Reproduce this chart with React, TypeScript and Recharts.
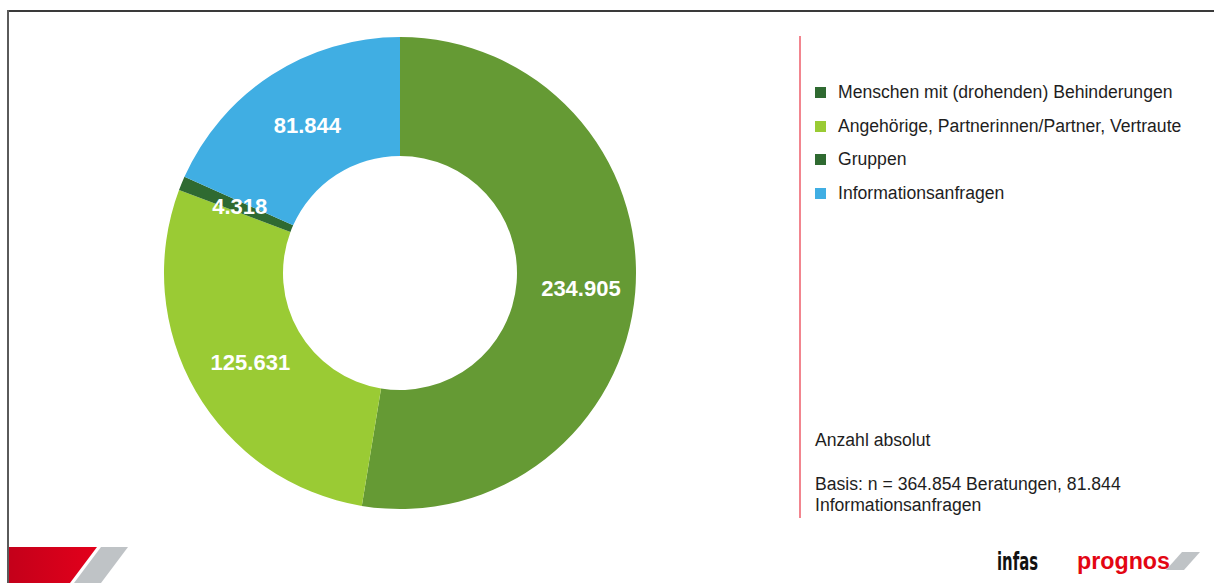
import React from "react";
import { PieChart, Pie, Cell, Legend } from "recharts";

const categories = [
  "Menschen mit (drohenden) Behinderungen",
  "Angehörige, Partnerinnen/Partner, Vertraute",
  "Gruppen",
  "Informationsanfragen",
];
const values = [234905, 125631, 4318, 81844];
const sliceColors = ["#659A34", "#9ACB34", "#2F6A31", "#40AEE3"];
const legendColors = ["#2F6A31", "#9ACB34", "#2F6A31", "#40AEE3"];
const noteLines = ["Anzahl absolut", "Basis: n = 364.854 Beratungen, 81.844", "Informationsanfragen"];

const data = categories.map((name, i) => ({ name, value: values[i] }));

const FONT = "'Liberation Sans', Arial, sans-serif";
const RADIAN = Math.PI / 180;

function fmt(v: number): string {
  return String(v).replace(/\B(?=(\d{3})+(?!\d))/g, ".");
}

const renderLabel = (props: any) => {
  const { cx, cy, midAngle, innerRadius, outerRadius, value } = props;
  const r = (innerRadius + outerRadius) / 2 + 1;
  const x = cx + r * Math.cos(-midAngle * RADIAN) + 4;
  const y = cy + r * Math.sin(-midAngle * RADIAN) + 1;
  return (
    <text
      x={x}
      y={y}
      fill="#ffffff"
      textAnchor="middle"
      dominantBaseline="central"
      fontFamily={FONT}
      fontWeight="bold"
      fontSize={22}
    >
      {fmt(value)}
    </text>
  );
};

const renderLegend = () => (
  <div style={{ fontFamily: FONT, fontSize: 17.6, color: "#1e1e1e" }}>
    {categories.map((c, i) => (
      <div key={c} style={{ height: 33.5, display: "flex", alignItems: "center" }}>
        <span
          style={{
            display: "inline-block",
            width: 11,
            height: 11,
            background: legendColors[i],
            marginRight: 12,
          }}
        />
        <span style={{ whiteSpace: "nowrap" }}>{c}</span>
      </div>
    ))}
  </div>
);

export default function App() {
  return (
    <div
      style={{
        position: "absolute",
        left: 0,
        top: 0,
        width: 1214,
        height: 583,
        background: "#ffffff",
        overflow: "hidden",
      }}
    >
      {/* frame */}
      <div style={{ position: "absolute", left: 7, top: 10, width: 1207, height: 2, background: "#3a3a3a" }} />
      <div style={{ position: "absolute", left: 7, top: 10, width: 2, height: 573, background: "#5a5a5a" }} />
      {/* red separator */}
      <div style={{ position: "absolute", left: 799, top: 36, width: 2, height: 482, background: "#F2858F" }} />

      <div style={{ position: "absolute", left: 0, top: 0 }}>
        <PieChart width={1214} height={583} margin={{ top: 0, right: 0, bottom: 0, left: 0 }}>
          <Pie
            data={data}
            dataKey="value"
            nameKey="name"
            cx={400}
            cy={273}
            innerRadius={117}
            outerRadius={236}
            startAngle={90}
            endAngle={-270}
            stroke="none"
            label={renderLabel}
            labelLine={false}
            isAnimationActive={false}
          >
            {data.map((d, i) => (
              <Cell key={d.name} fill={sliceColors[i]} />
            ))}
          </Pie>
          <Legend
            content={renderLegend}
            layout="vertical"
            wrapperStyle={{ position: "absolute", left: 815, top: 76, width: 395 }}
          />
        </PieChart>
      </div>

      {/* notes */}
      <div
        style={{
          position: "absolute",
          left: 815,
          top: 430,
          fontFamily: FONT,
          fontSize: 17.6,
          color: "#1e1e1e",
          lineHeight: "21px",
          whiteSpace: "nowrap",
        }}
      >
        <div>{noteLines[0]}</div>
        <div style={{ height: 23 }} />
        <div>{noteLines[1]}</div>
        <div>{noteLines[2]}</div>
      </div>

      {/* logos */}
      <svg style={{ position: "absolute", left: 0, top: 0 }} width={1214} height={583}>
        <defs>
          <linearGradient id="redg" x1="0" y1="0" x2="1" y2="0">
            <stop offset="0" stopColor="#C4001A" />
            <stop offset="1" stopColor="#E3001B" />
          </linearGradient>
        </defs>
        <polygon points="9,547 97,547 70,583 9,583" fill="url(#redg)" />
        <polygon points="101,547 128,547 101,583 74,583" fill="#BFC3C6" />
        <text
          x={997}
          y={570}
          fontFamily="'DejaVu Sans Condensed', 'Liberation Sans Narrow', sans-serif"
          fontWeight="bold"
          fontSize={25}
          fill="#111111"
          textLength={41}
          lengthAdjust="spacingAndGlyphs"
        >
          infas
        </text>
        <text
          x={1077}
          y={569}
          fontFamily={FONT}
          fontWeight="bold"
          fontSize={23}
          fill="#E30613"
          textLength={93}
          lengthAdjust="spacingAndGlyphs"
        >
          prognos
        </text>
        <polygon points="1182,552 1200,552 1184,570 1166,570" fill="#BFC3C6" />
      </svg>
    </div>
  );
}
